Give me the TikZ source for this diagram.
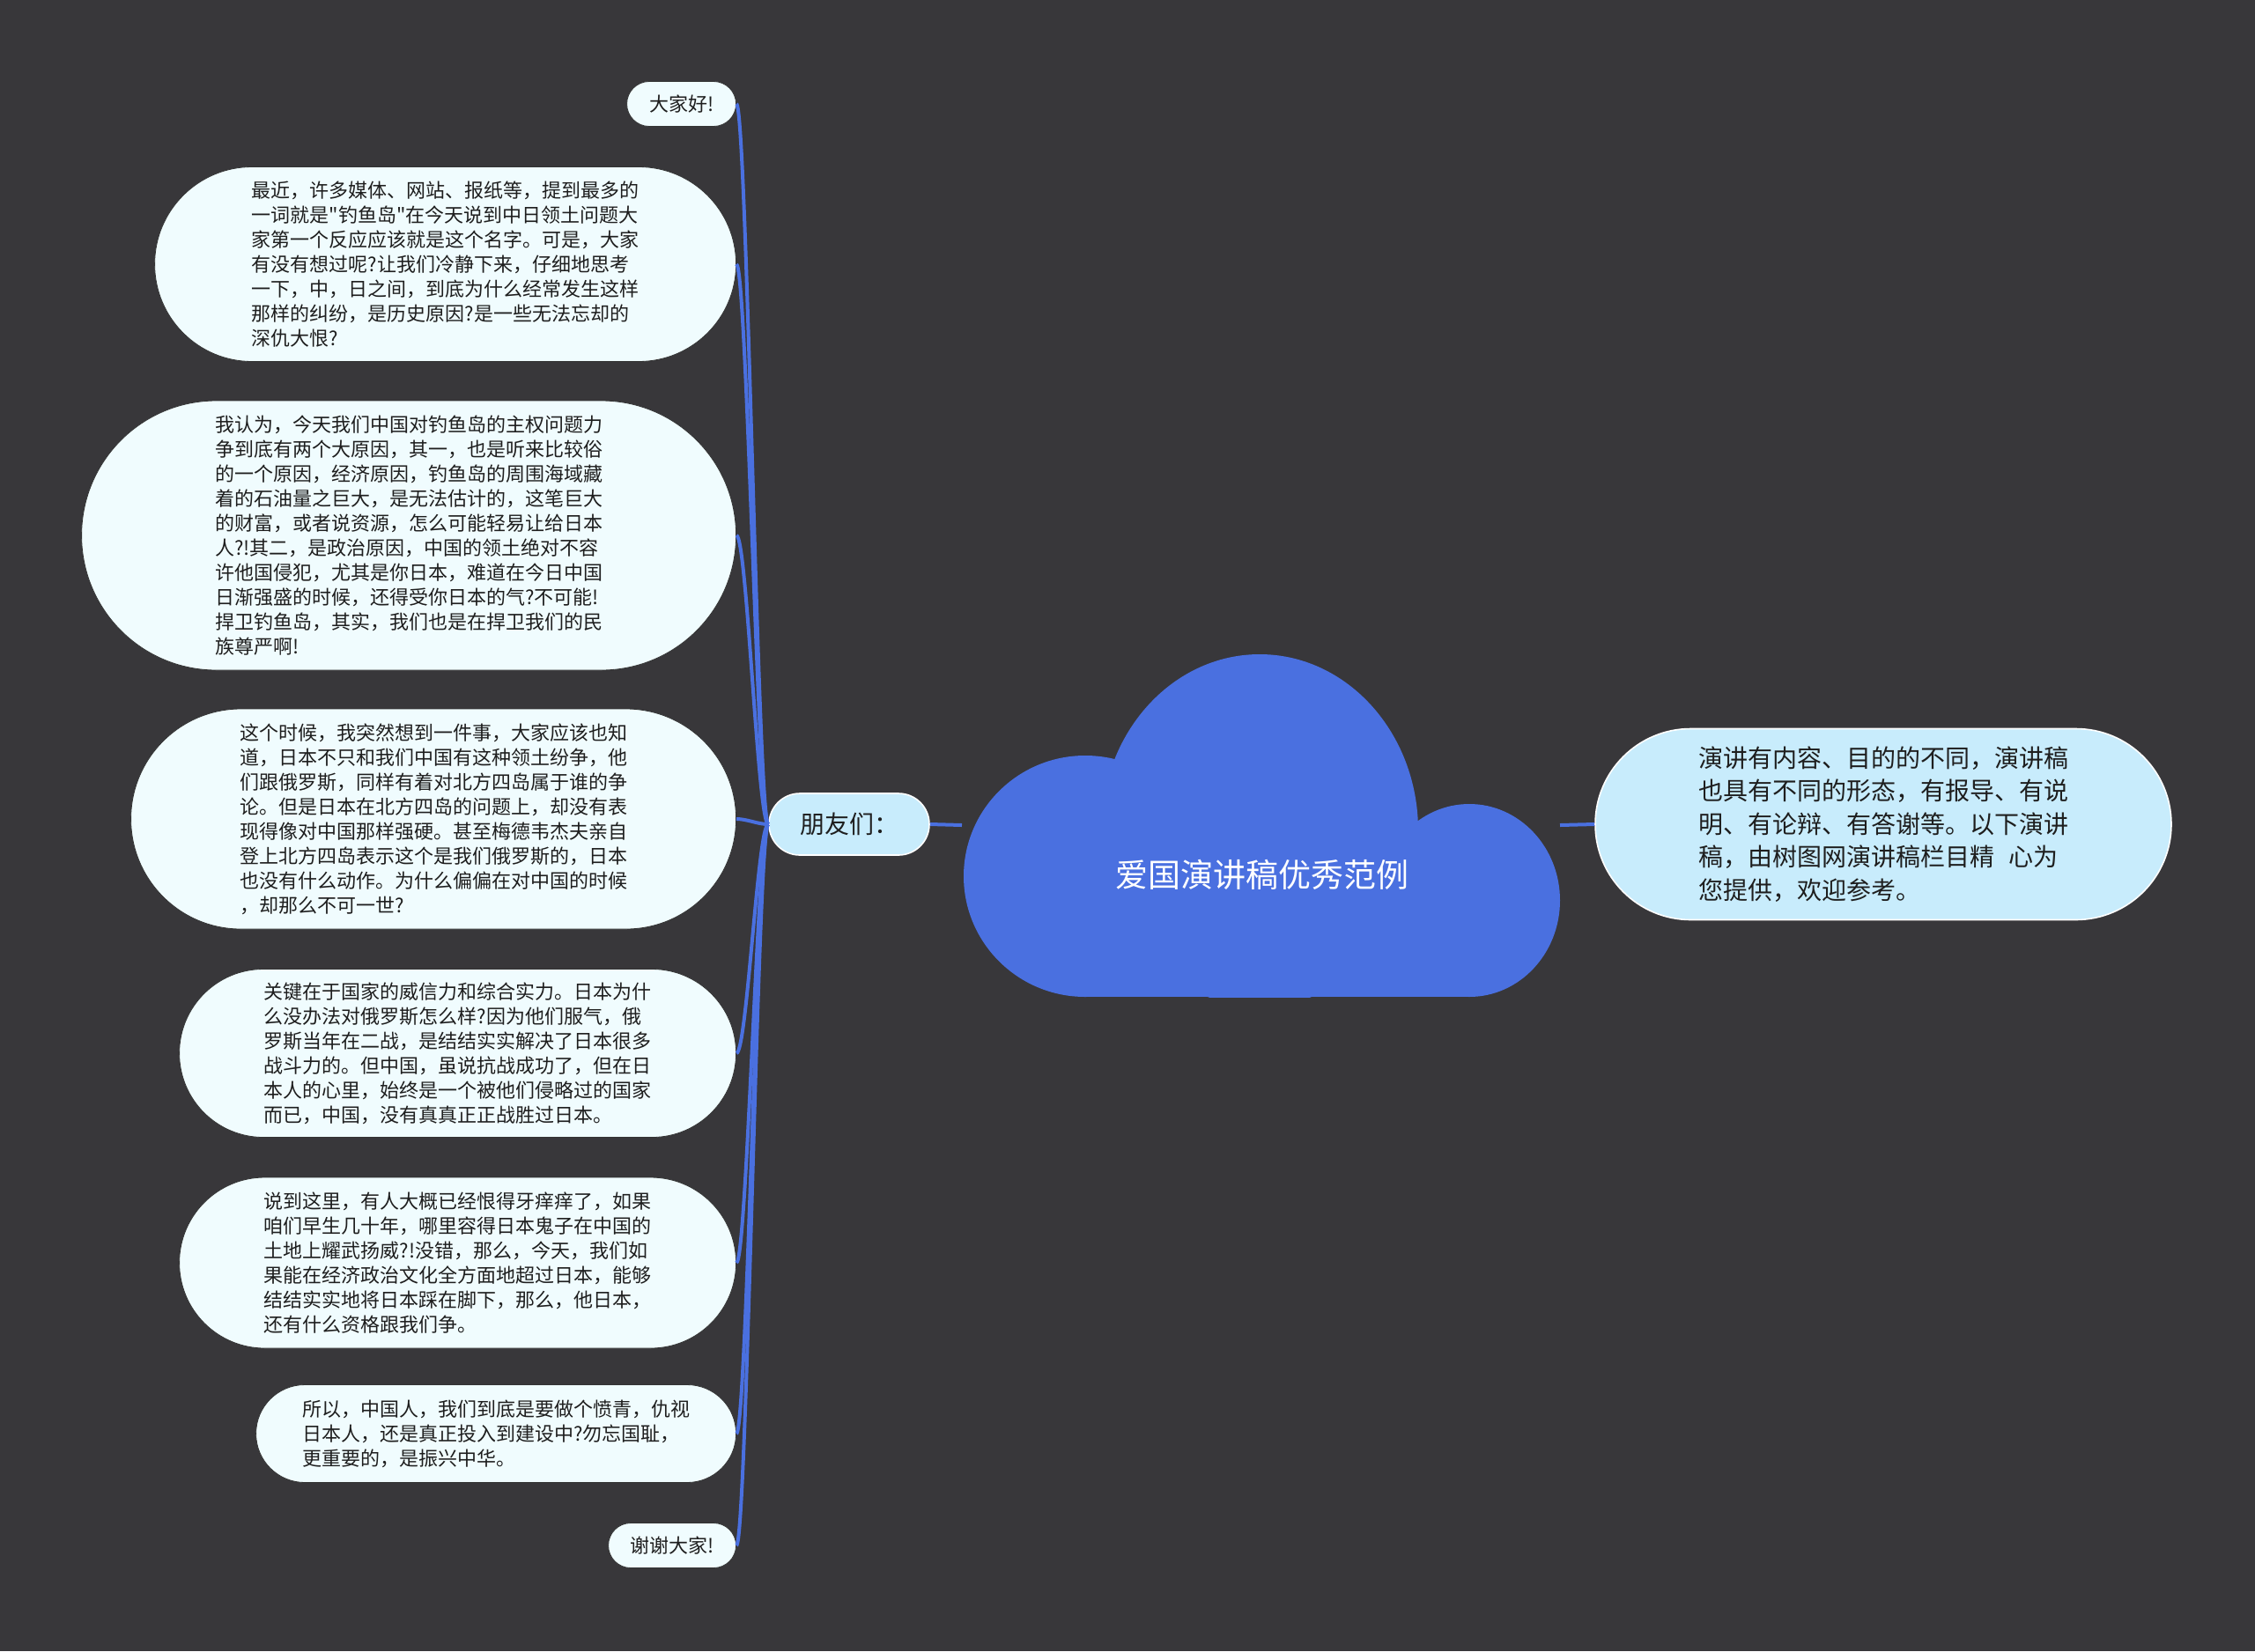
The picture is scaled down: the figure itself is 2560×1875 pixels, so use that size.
\documentclass[tikz,border=0pt]{standalone}
\usepackage{fontspec}
\newfontfamily\cjkfont{Noto Sans CJK SC}
\usepackage{tikz}
\usetikzlibrary{shapes.misc, positioning}

\definecolor{bgdark}{RGB}{56,55,58}
\definecolor{linkblue}{RGB}{74,112,224}
\definecolor{leaffill}{RGB}{240,252,254}
\definecolor{topicfill}{RGB}{200,236,252}
\definecolor{inkgray}{RGB}{30,30,30}

\begin{document}
\begin{tikzpicture}[x=0.5pt, y=-0.5pt]
\tikzstyle{leaf} = [rounded rectangle, anchor=east,
    draw=black!80, line width=0.4pt, fill=leaffill,
    text=inkgray, align=left, inner xsep=0pt, inner ysep=2pt,
    font=\cjkfont\fontsize{11}{14}\selectfont]
\tikzstyle{topic} = [rounded rectangle,
    draw=white, line width=0.8pt, fill=topicfill,
    text=inkgray, align=left, inner xsep=0pt, inner ysep=2pt,
    font=\cjkfont\fontsize{14}{18.8}\selectfont]
\tikzstyle{branch} = [draw=linkblue, line width=2pt]

% --- CANVAS ---
\fill [bgdark] (0,0) rectangle (2560,1875);
\useasboundingbox (0,0) rectangle (2560,1875);

% --- CLOUD (root) ---
\begin{scope}
\clip (1000,700) rectangle (1850,1132);
\fill [linkblue] (1430,943) ellipse [x radius=180, y radius=200];
\fill [linkblue] (1232,995) ellipse [x radius=138, y radius=137];
\fill [linkblue] (1668,1022.5) ellipse [x radius=103, y radius=109.5];
\fill [linkblue] (1232,940) rectangle (1668,1132);
\end{scope}
\node (root) [text=white, font=\cjkfont\fontsize{18.5}{22}\selectfont]
    at (1433,993) {爱国演讲稿优秀范例};
\coordinate (cloudL) at (1092,937);
\coordinate (cloudR) at (1771,937);

% --- FIRST LEVEL ---
\node (friends) [topic, minimum width=91pt, minimum height=35pt]
    at (964,936) {朋友们：};
\node (intro) [topic, minimum width=327pt, minimum height=108.5pt]
    at (2138,936)
    {演讲有内容、目的的不同，演讲稿\\
     也具有不同的形态，有报导、有说\\
     明、有论辩、有答谢等。以下演讲\\
     稿，由树图网演讲稿栏目精\hspace{0.6em}心为\\
     您提供，欢迎参考。};

% --- LEAVES ---
\node (hello) [leaf, minimum width=62pt, minimum height=25.5pt]
    at (836,118) {大家好!};
\node (b1) [leaf, minimum width=330pt, minimum height=110.5pt]
    at (836,300)
    {最近，许多媒体、网站、报纸等，提到最多的\\
     一词就是"钓鱼岛"在今天说到中日领土问题大\\
     家第一个反应应该就是这个名字。可是，大家\\
     有没有想过呢?让我们冷静下来，仔细地思考\\
     一下，中，日之间，到底为什么经常发生这样\\
     那样的纠纷，是历史原因?是一些无法忘却的\\
     深仇大恨?};
\node (b2) [leaf, minimum width=371.5pt, minimum height=153pt]
    at (836,608)
    {我认为，今天我们中国对钓鱼岛的主权问题力\\
     争到底有两个大原因，其一，也是听来比较俗\\
     的一个原因，经济原因，钓鱼岛的周围海域藏\\
     着的石油量之巨大，是无法估计的，这笔巨大\\
     的财富，或者说资源，怎么可能轻易让给日本\\
     人?!其二，是政治原因，中国的领土绝对不容\\
     许他国侵犯，尤其是你日本，难道在今日中国\\
     日渐强盛的时候，还得受你日本的气?不可能!\\
     捍卫钓鱼岛，其实，我们也是在捍卫我们的民\\
     族尊严啊!};
\node (b3) [leaf, minimum width=343.5pt, minimum height=125pt]
    at (836,930)
    {这个时候，我突然想到一件事，大家应该也知\\
     道，日本不只和我们中国有这种领土纷争，他\\
     们跟俄罗斯，同样有着对北方四岛属于谁的争\\
     论。但是日本在北方四岛的问题上，却没有表\\
     现得像对中国那样强硬。甚至梅德韦杰夫亲自\\
     登上北方四岛表示这个是我们俄罗斯的，日本\\
     也没有什么动作。为什么偏偏在对中国的时候\\
     ，却那么不可一世?};
\node (b4) [leaf, minimum width=316pt, minimum height=95.5pt]
    at (836,1196)
    {关键在于国家的威信力和综合实力。日本为什\\
     么没办法对俄罗斯怎么样?因为他们服气，俄\\
     罗斯当年在二战，是结结实实解决了日本很多\\
     战斗力的。但中国，虽说抗战成功了，但在日\\
     本人的心里，始终是一个被他们侵略过的国家\\
     而已，中国，没有真真正正战胜过日本。};
\node (b5) [leaf, minimum width=316pt, minimum height=97pt]
    at (836,1434)
    {说到这里，有人大概已经恨得牙痒痒了，如果\\
     咱们早生几十年，哪里容得日本鬼子在中国的\\
     土地上耀武扬威?!没错，那么，今天，我们如\\
     果能在经济政治文化全方面地超过日本，能够\\
     结结实实地将日本踩在脚下，那么，他日本，\\
     还有什么资格跟我们争。};
\node (b6) [leaf, minimum width=272.5pt, minimum height=55.5pt]
    at (836,1628)
    {所以，中国人，我们到底是要做个愤青，仇视\\
     日本人，还是真正投入到建设中?勿忘国耻，\\
     更重要的，是振兴中华。};
\node (thanks) [leaf, minimum width=72.5pt, minimum height=25.5pt]
    at (836,1755) {谢谢大家!};

% --- CONNECTORS ---
\draw [branch] (friends.east) -- (cloudL);
\draw [branch] (cloudR) -- (intro.west);
\foreach \leafname in {hello,b1,b2,b3,b4,b5,b6,thanks}
    \draw [branch] (friends.west) .. controls +(-12,0) and +(12,0)
        .. (\leafname.east);
\end{tikzpicture}
\end{document}
